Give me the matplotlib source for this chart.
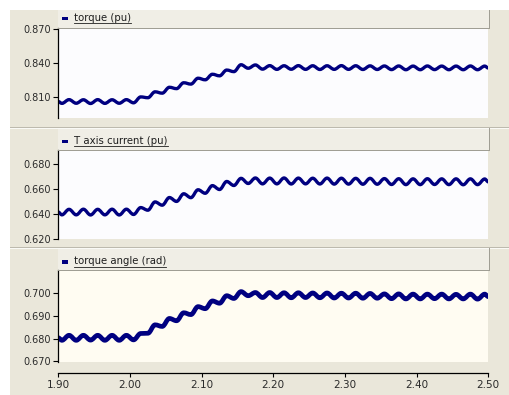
import numpy as np
import matplotlib
matplotlib.use("Agg")
import matplotlib.pyplot as plt
from matplotlib.patches import Rectangle, PathPatch
from matplotlib.path import Path
from matplotlib.lines import Line2D

# ---- data -------------------------------------------------------------
# sample instants: start, every ripple crest/trough (10 ms apart), end
t = np.round(np.r_[1.900, np.arange(1.905, 2.500, 0.010), 2.500], 3)

torque = [0.8060,
          0.8044, 0.8077, 0.8045, 0.8076, 0.8043, 0.8077, 0.8044, 0.8076, 0.8045, 0.8077,
          0.8049, 0.8101, 0.8094, 0.8146, 0.8134, 0.8186, 0.8174, 0.8226, 0.8214, 0.8266,
          0.8252, 0.8301, 0.8287, 0.8338, 0.8324, 0.8385, 0.8354, 0.8383, 0.8346, 0.8377,
          0.8344, 0.8376, 0.8345, 0.8377, 0.8344, 0.8376, 0.8343, 0.8376, 0.8344, 0.8377,
          0.8344, 0.8376, 0.8343, 0.8375, 0.8343, 0.8374, 0.8342, 0.8374, 0.8341, 0.8373,
          0.8341, 0.8374, 0.8342, 0.8373, 0.8341, 0.8373, 0.8341, 0.8374, 0.8341, 0.8373,
          0.8356]

t_axis_current = [0.6417,
                  0.6395, 0.6439, 0.6395, 0.6440, 0.6394, 0.6439, 0.6395, 0.6440, 0.6394, 0.6440,
                  0.6398, 0.6453, 0.6432, 0.6498, 0.6472, 0.6533, 0.6502, 0.6563, 0.6532, 0.6595,
                  0.6567, 0.6628, 0.6597, 0.6661, 0.6629, 0.6686, 0.6645, 0.6689, 0.6642, 0.6688,
                  0.6642, 0.6689, 0.6641, 0.6688, 0.6642, 0.6687, 0.6641, 0.6688, 0.6640, 0.6687,
                  0.6640, 0.6686, 0.6639, 0.6686, 0.6639, 0.6684, 0.6637, 0.6683, 0.6636, 0.6682,
                  0.6636, 0.6683, 0.6637, 0.6682, 0.6636, 0.6682, 0.6635, 0.6682, 0.6636, 0.6681,
                  0.6658]

torque_angle = [0.6804,
                0.6793, 0.6815, 0.6793, 0.6815, 0.6794, 0.6815, 0.6793, 0.6815, 0.6793, 0.6815,
                0.6795, 0.6823, 0.6824, 0.6861, 0.6854, 0.6889, 0.6879, 0.6914, 0.6906, 0.6941,
                0.6932, 0.6966, 0.6956, 0.6989, 0.6977, 0.7007, 0.6989, 0.7003, 0.6981, 0.7003,
                0.6981, 0.7002, 0.6980, 0.7002, 0.6981, 0.7001, 0.6980, 0.7001, 0.6979, 0.7000,
                0.6979, 0.7000, 0.6978, 0.6999, 0.6978, 0.6997, 0.6976, 0.6997, 0.6975, 0.6996,
                0.6975, 0.6996, 0.6976, 0.6996, 0.6975, 0.6995, 0.6975, 0.6996, 0.6974, 0.6996,
                0.6985]

titles = ["torque (pu)", "T axis current (pu)", "torque angle (rad)"]
series = [torque, t_axis_current, torque_angle]
yticks = [[0.810, 0.840, 0.870],
          [0.620, 0.640, 0.660, 0.680],
          [0.670, 0.680, 0.690, 0.700]]
xticks = [1.90, 2.00, 2.10, 2.20, 2.30, 2.40, 2.50]

# ---- layout (pixel geometry) -------------------------------------------
W, H = 509, 395
BEIGE = "#EAE7DA"
HEADER = "#F0EEE6"
EDGE = "#A09E94"
NAVY = "#000080"

fig = plt.figure(figsize=(W / 100, H / 100), dpi=100, facecolor="white")


def frac(x0, y0, x1, y1):
    return [x0 / W, 1 - y1 / H, (x1 - x0) / W, (y1 - y0) / H]


def fx(x):
    return x / W


def fy(y):
    return 1 - y / H


def hline(y, x0, x1, color, lw=1.0):
    fig.add_artist(Line2D([fx(x0), fx(x1)], [fy(y), fy(y)], color=color,
                          lw=lw * 0.72, transform=fig.transFigure))


def vline(x, y0, y1, color, lw=1.0):
    fig.add_artist(Line2D([fx(x), fx(x)], [fy(y0), fy(y1)], color=color,
                          lw=lw * 0.72, transform=fig.transFigure))


def smooth_trace(ax, x, y, **kw):
    """Draw the samples as a smooth curve: cubic Bezier segments with flat
    tangents at every sample (the samples are ripple crests and troughs)."""
    verts = [(x[0], y[0])]
    codes = [Path.MOVETO]
    k = 0.3642
    for x0, y0, x1, y1 in zip(x[:-1], y[:-1], x[1:], y[1:]):
        dx = x1 - x0
        verts += [(x0 + k * dx, y0), (x1 - k * dx, y1), (x1, y1)]
        codes += [Path.CURVE4] * 3
    patch = PathPatch(Path(verts, codes), fill=False, transform=ax.transData, **kw)
    ax.add_patch(patch)
    return patch


# window body
fig.add_artist(Rectangle((fx(10), 0), 1 - fx(10), fy(10), transform=fig.transFigure,
                         facecolor=BEIGE, edgecolor="none", zorder=-10))

# panel separators
for ys in (126.5, 246.5):
    hline(ys, 10, W, "#BDBAAE")
    hline(ys + 1, 10, W, "#FAFAF6")

panels = [
    dict(header=(58, 10, 489, 28), ax=(58.3, 28, 488.3, 118), ylim=(0.7915, 0.8709),
         face="#FCFCFE", lw=2.4, ty=18.0),
    dict(header=(58, 128, 489, 150), ax=(58.3, 150, 488.3, 239.3), ylim=(0.6200, 0.6912),
         face="#FCFCFE", lw=2.4, ty=141.0),
    dict(header=(58, 248, 489, 270), ax=(58.3, 270, 488.3, 361.7), ylim=(0.6699, 0.7102),
         face="#FFFCF2", lw=3.4, ty=261.5),
]

for p, title, y, yt in zip(panels, titles, series, yticks):
    hx0, hy0, hx1, hy1 = p["header"]
    fig.add_artist(Rectangle((fx(hx0), fy(hy1)), fx(hx1) - fx(hx0), fy(hy0) - fy(hy1),
                             transform=fig.transFigure, facecolor=HEADER,
                             edgecolor="none", zorder=-5))
    hline(hy1 - 0.5, hx0, hx1, EDGE)
    vline(hx1 - 0.5, hy0, hy1, EDGE)

    ax = fig.add_axes(frac(*p["ax"]))
    ax.set_facecolor(p["face"])
    smooth_trace(ax, t, y, edgecolor=NAVY, lw=p["lw"], joinstyle="round",
                 capstyle="round")
    ax.set_xlim(1.90, 2.50)
    ax.set_ylim(*p["ylim"])
    ax.set_yticks(yt)
    ax.set_yticklabels([f"{v:.3f}" for v in yt])
    ax.set_xticks([])
    for s in ("top", "right", "bottom"):
        ax.spines[s].set_visible(False)
    ax.spines["left"].set_linewidth(0.9)
    ax.tick_params(axis="y", direction="out", length=3.5, width=0.8, pad=2,
                   labelsize=7, labelcolor="#2A2A2A")

    # legend entry in the header strip
    ty = p["ty"]
    fig.add_artist(Rectangle((fx(62), fy(ty + 2)), fx(6), 3.4 / H,
                             transform=fig.transFigure, facecolor=NAVY,
                             edgecolor="none"))
    p["txt"] = fig.text(fx(74), fy(ty), title, fontsize=7.3, color="#1E1E1E",
                        va="center", ha="left")

# shared time axis under the last panel
xax = fig.add_axes(frac(58.3, 372.9, 488.3, 373.0))
xax.set_facecolor("none")
for s in ("top", "right", "left"):
    xax.spines[s].set_visible(False)
xax.spines["bottom"].set_linewidth(0.9)
xax.set_xlim(1.90, 2.50)
xax.set_yticks([])
xax.set_xticks(xticks)
xax.set_xticklabels([f"{v:.2f}" for v in xticks])
xax.tick_params(axis="x", direction="out", length=3, width=0.8, pad=2,
                labelsize=7.5, labelcolor="#2A2A2A")

# underline the legend captions
fig.canvas.draw()
for p in panels:
    bb = p["txt"].get_window_extent()
    x0, x1 = bb.x0 / W, bb.x1 / W
    yl = fy(p["ty"] + 5)
    fig.add_artist(Line2D([x0, x1], [yl, yl], color="#1E1E1E", lw=0.6,
                          transform=fig.transFigure))

fig.savefig("out.png", dpi=100, facecolor="white")
